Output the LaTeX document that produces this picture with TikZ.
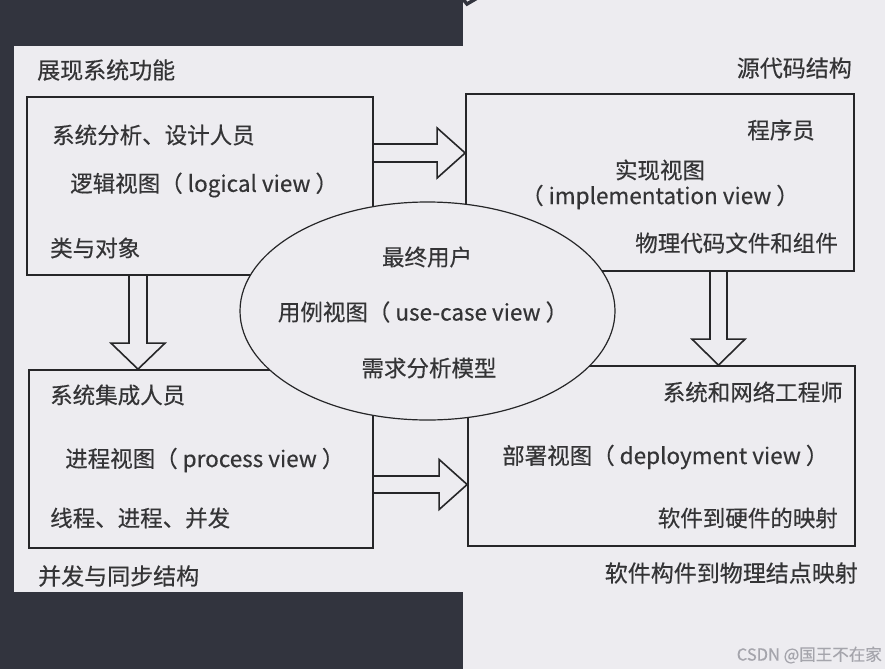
\documentclass[tikz,border=0pt]{standalone}
\usepackage{fontspec}
\setmainfont{Noto Sans CJK SC}[FakeBold=0.4]
\usetikzlibrary{shapes.geometric}
\definecolor{pagebg}{RGB}{237,236,240}
\definecolor{slidedark}{RGB}{50,52,62}
\definecolor{inkline}{RGB}{38,38,40}
\definecolor{inktext}{RGB}{52,52,54}
\definecolor{markgray}{RGB}{165,165,172}
\tikzset{
  viewbox/.style={draw=inkline, line width=1.7pt, rectangle, inner sep=0pt},
  viewtext/.style={font=\fontsize{22.5}{26}\selectfont, text=inktext, inner sep=0pt},
  outertext/.style={font=\fontsize{23}{27}\selectfont, text=inktext, inner sep=0pt},
  hollow/.style={draw=inkline, line width=1.6pt, line join=miter},
}
\begin{document}
\begin{tikzpicture}[x=1pt,y=-1pt]
\useasboundingbox (0,0) rectangle (885,669);
\fill[pagebg] (0,0) rectangle (885,669);
\fill[slidedark] (0,0) rectangle (463,46);
\fill[slidedark] (0,0) rectangle (14,669);
\fill[slidedark] (0,592) rectangle (463,669);
\draw[slidedark, line width=3.5pt] (462,-2) -- (467,4) -- (479,-3);

\node[viewbox, minimum width=346pt, minimum height=178pt] (logic) at (200,186) {};
\node[viewbox, minimum width=388pt, minimum height=177pt] (impl) at (660,182.5) {};
\node[viewbox, minimum width=344pt, minimum height=178pt] (process) at (201,459) {};
\node[viewbox, minimum width=387pt, minimum height=180pt] (deploy) at (661.5,456) {};

\coordinate (la) at (logic.east |- 0,153);
\coordinate (ia) at (impl.west |- 0,153);
\draw[hollow] ([yshift=9pt]la) -- ([xshift=-28pt,yshift=9pt]ia) -- ([xshift=-28pt,yshift=25pt]ia) -- (ia)
  -- ([xshift=-28pt,yshift=-25pt]ia) -- ([xshift=-28pt,yshift=-9pt]ia) -- ([yshift=-9pt]la);
\coordinate (pa) at (process.east |- 0,484.5);
\coordinate (da) at (deploy.west |- 0,484.5);
\draw[hollow] ([yshift=8.5pt]pa) -- ([xshift=-28pt,yshift=8.5pt]da) -- ([xshift=-28pt,yshift=25pt]da) -- (da)
  -- ([xshift=-28pt,yshift=-25pt]da) -- ([xshift=-28pt,yshift=-8.5pt]da) -- ([yshift=-8.5pt]pa);
\coordinate (lb) at (logic.south -| 138,0);
\coordinate (pb) at (process.north -| 138,0);
\draw[hollow] ([xshift=-9pt]lb) -- ([xshift=-9pt,yshift=26pt]pb) -- ([xshift=-27pt,yshift=26pt]pb) -- (pb)
  -- ([xshift=27pt,yshift=26pt]pb) -- ([xshift=9pt,yshift=26pt]pb) -- ([xshift=9pt]lb);
\coordinate (ib) at (impl.south -| 718.5,0);
\coordinate (db) at (deploy.north -| 718.5,0);
\draw[hollow] ([xshift=-8.5pt]ib) -- ([xshift=-8.5pt,yshift=26pt]db) -- ([xshift=-26.5pt,yshift=26pt]db) -- (db)
  -- ([xshift=26.5pt,yshift=26pt]db) -- ([xshift=8.5pt,yshift=26pt]db) -- ([xshift=8.5pt]ib);

\node[ellipse, draw=inkline, line width=1.2pt, fill=pagebg, minimum width=375pt, minimum height=218pt, inner sep=0pt] (usecase) at (427.5,311) {};

\node[outertext, anchor=west] (showfunc) at (37,70) {展现系统功能};
\node[outertext, anchor=east] (srcstruct) at (852,68) {源代码结构};
\node[outertext, anchor=west] (concur) at (38,576) {并发与同步结构};
\node[outertext, anchor=east] (mapping) at (858,573) {软件构件到物理结点映射};

\node[viewtext, anchor=west] (analyst) at (52,135) {系统分析、设计人员};
\node[viewtext, anchor=west] (logicname) at (70,185) {逻辑视图（ logical view ）};
\node[viewtext, anchor=west] (classobj) at (50,248) {类与对象};

\node[viewtext, anchor=east] (programmer) at (815,130) {程序员};
\node[viewtext] (implname) at (660,170) {实现视图};
\node[viewtext] (implsub) at (660,197) {（ implementation view ）};
\node[viewtext, anchor=east] (physcode) at (838,243) {物理代码文件和组件};

\node[viewtext] (enduser) at (427,257) {最终用户};
\node[viewtext] (usecasename) at (423,312) {用例视图（ use-case view ）};
\node[viewtext] (reqmodel) at (429,368) {需求分析模型};

\node[viewtext, anchor=west] (integrator) at (50,395) {系统集成人员};
\node[viewtext, anchor=west] (procname) at (65,460) {进程视图（ process view ）};
\node[viewtext, anchor=west] (threads) at (50,518) {线程、进程、并发};

\node[viewtext, anchor=east] (neteng) at (843,392) {系统和网络工程师};
\node[viewtext, anchor=west] (deployname) at (502,457) {部署视图（ deployment view ）};
\node[viewtext, anchor=east] (swhw) at (838,518) {软件到硬件的映射};

\node[font=\fontsize{16.5}{19}\selectfont, text=markgray, inner sep=0pt, anchor=east] (csdnmark) at (882,655) {CSDN @国王不在家};
\end{tikzpicture}
\end{document}
